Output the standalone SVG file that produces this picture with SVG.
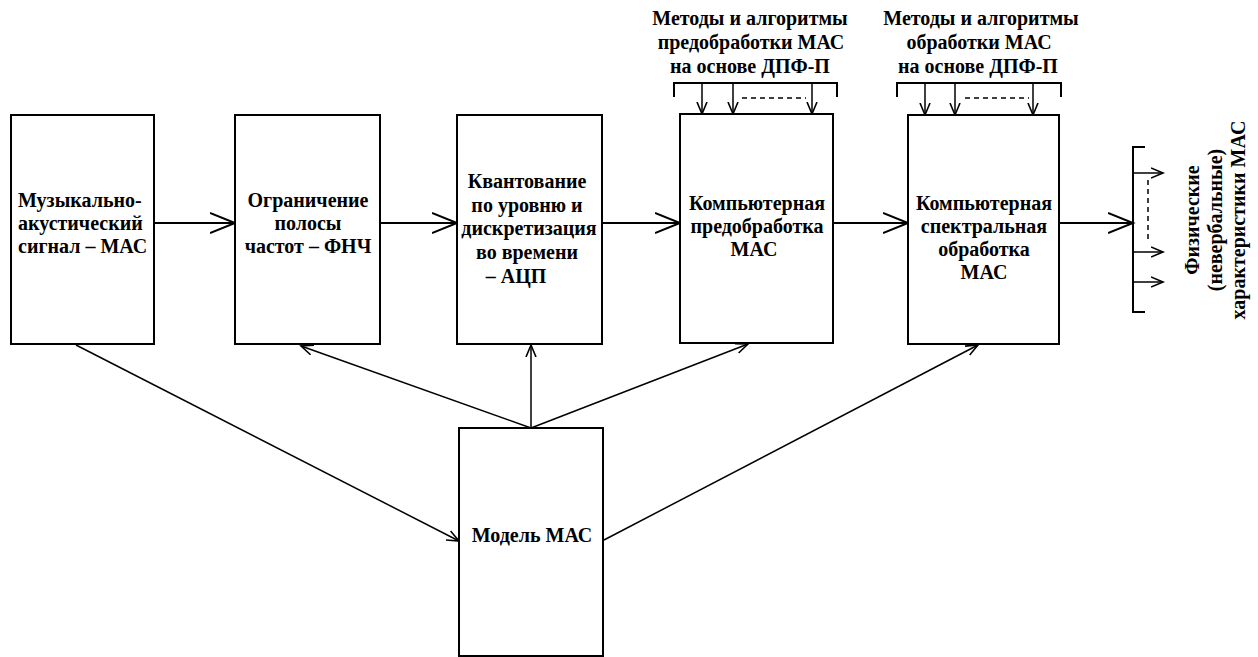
<svg xmlns="http://www.w3.org/2000/svg" width="1258" height="657" viewBox="0 0 1258 657">
<style>
.box{fill:#fff;stroke:#000;stroke-width:2}
.t{font-family:"Liberation Serif","Times New Roman",serif;font-weight:bold;font-size:20px;fill:#000}
.c{text-anchor:middle}
.ln{stroke:#000;stroke-width:2;fill:none}
.thin{stroke:#000;stroke-width:1.5;fill:none}
.dash{stroke:#000;stroke-width:1.5;stroke-dasharray:5,4;fill:none}
</style>
<defs>
<marker id="big" markerUnits="userSpaceOnUse" markerWidth="30" markerHeight="24" refX="25" refY="11" orient="auto" viewBox="0 0 30 24">
<path d="M0,1 L25,11 L0,21" fill="none" stroke="#000" stroke-width="2"/>
</marker>
<marker id="sm" markerUnits="userSpaceOnUse" markerWidth="16" markerHeight="14" refX="12" refY="6" orient="auto" viewBox="0 0 16 14">
<path d="M0,1 L12,6 L0,11" fill="none" stroke="#000" stroke-width="1.6"/>
</marker>
</defs>
<rect width="1258" height="657" fill="#fff"/>

<g id="connectors">
<line class="ln" x1="154" y1="223" x2="235" y2="223" marker-end="url(#big)"/>
<line class="ln" x1="380" y1="223" x2="457" y2="223" marker-end="url(#big)"/>
<line class="ln" x1="602" y1="223" x2="680" y2="223" marker-end="url(#big)"/>
<line class="ln" x1="833" y1="223" x2="908" y2="223" marker-end="url(#big)"/>
<line class="ln" x1="1059" y1="223" x2="1133" y2="223" marker-end="url(#big)"/>

<line class="thin" x1="76" y1="345" x2="459" y2="541" marker-end="url(#sm)"/>
<line class="thin" x1="531" y1="428" x2="301" y2="346" marker-end="url(#sm)"/>
<line class="thin" x1="531" y1="428" x2="531" y2="345" marker-end="url(#sm)"/>
<line class="thin" x1="531" y1="428" x2="748" y2="344" marker-end="url(#sm)"/>
<line class="thin" x1="604" y1="540" x2="978" y2="345" marker-end="url(#sm)"/>

<path class="ln" d="M674,97 V83 H837 V97"/>
<line class="thin" x1="702" y1="83" x2="702" y2="114" marker-end="url(#sm)"/>
<line class="thin" x1="733" y1="83" x2="733" y2="114" marker-end="url(#sm)"/>
<line class="thin" x1="812" y1="83" x2="812" y2="114" marker-end="url(#sm)"/>
<line class="dash" x1="742" y1="98" x2="806" y2="98"/>

<path class="ln" d="M897,97 V83 H1061 V97"/>
<line class="thin" x1="925" y1="83" x2="925" y2="115" marker-end="url(#sm)"/>
<line class="thin" x1="955" y1="83" x2="955" y2="115" marker-end="url(#sm)"/>
<line class="thin" x1="1033" y1="83" x2="1033" y2="115" marker-end="url(#sm)"/>
<line class="dash" x1="965" y1="98" x2="1029" y2="98"/>

<path class="ln" d="M1145,147 H1133 V312 H1145"/>
<line class="thin" x1="1133" y1="173" x2="1163" y2="173" marker-end="url(#sm)"/>
<line class="thin" x1="1133" y1="252" x2="1163" y2="252" marker-end="url(#sm)"/>
<line class="thin" x1="1133" y1="282" x2="1163" y2="282" marker-end="url(#sm)"/>
<line class="dash" x1="1148" y1="180" x2="1148" y2="243"/>
</g>

<g id="n1">
<rect class="box" x="11" y="115" width="143" height="229"/>
<text class="t" x="18" y="207">Музыкально-</text>
<text class="t" x="18" y="230">акустический</text>
<text class="t" x="18" y="253">сигнал – МАС</text>
</g>
<g id="n2">
<rect class="box" x="235" y="115" width="145" height="229"/>
<text class="t c" x="308" y="207">Ограничение</text>
<text class="t c" x="308" y="230">полосы</text>
<text class="t c" x="308" y="253">частот – ФНЧ</text>
</g>
<g id="n3">
<rect class="box" x="457" y="115" width="145" height="229"/>
<text class="t c" x="527" y="188">Квантование</text>
<text class="t c" x="527" y="212">по уровню и</text>
<text class="t c" x="529" y="235">дискретизация</text>
<text class="t c" x="527" y="259">во времени</text>
<text class="t c" x="516" y="283">– АЦП</text>
</g>
<g id="n4">
<rect class="box" x="680" y="114" width="153" height="229"/>
<text class="t c" x="757" y="210">Компьютерная</text>
<text class="t c" x="757" y="233">предобработка</text>
<text class="t c" x="754" y="256">МАС</text>
</g>
<g id="n5">
<rect class="box" x="908" y="115" width="151" height="229"/>
<text class="t c" x="984" y="210">Компьютерная</text>
<text class="t c" x="984" y="233">спектральная</text>
<text class="t c" x="984" y="256">обработка</text>
<text class="t c" x="984" y="279">МАС</text>
</g>
<g id="n6">
<rect class="box" x="459" y="428" width="144" height="228"/>
<text class="t c" x="532" y="542">Модель МАС</text>
</g>
<g id="lbl1">
<text class="t c" x="750" y="25">Методы и алгоритмы</text>
<text class="t c" x="751" y="49">предобработки МАС</text>
<text class="t c" x="750" y="73">на основе ДПФ-П</text>
</g>
<g id="lbl2">
<text class="t c" x="981" y="25">Методы и алгоритмы</text>
<text class="t c" x="979" y="49">обработки МАС</text>
<text class="t c" x="978" y="73">на основе ДПФ-П</text>
</g>
<g id="lbl3">
<text class="t c" transform="translate(1199,220) rotate(-90)">Физические</text>
<text class="t c" transform="translate(1222,220) rotate(-90)">(невербальные)</text>
<text class="t c" transform="translate(1245,220) rotate(-90)">характеристики МАС</text>
</g>
</svg>
